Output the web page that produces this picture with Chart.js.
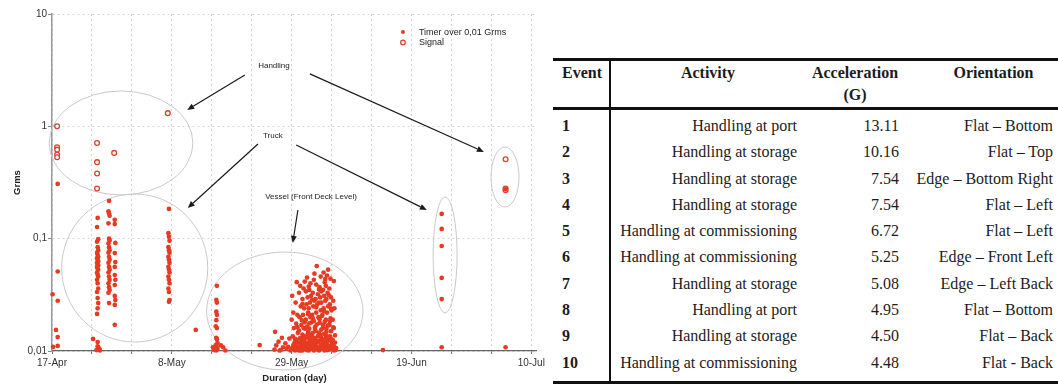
<!DOCTYPE html>
<html>
<head>
<meta charset="utf-8">
<script src="https://cdn.jsdelivr.net/npm/chart.js@4.4.1/dist/chart.umd.min.js"></script>
<style>
  html, body { margin: 0; padding: 0; background: #fff; }
  body { width: 1058px; height: 385px; overflow: hidden; position: relative; }
  #plot { position: absolute; left: 0; top: 0; width: 548px; height: 385px; }
  #tbl { position: absolute; left: 553px; top: 58px; width: 505px; }
  table { border-collapse: collapse; table-layout: fixed; width: 505px;
          font-family: 'Liberation Serif', 'Times New Roman', serif; font-size: 16px; color: #1c1c1c; }
  thead tr { border-top: 3px solid #111; border-bottom: 3px solid #111; }
  th { font-weight: bold; vertical-align: top; height: 45px; padding: 1px 0 0 0; line-height: 22px; text-align: center; }
  td { padding: 0; line-height: 26.3px; white-space: nowrap; }
  tbody tr:first-child td { padding-top: 3px; }
  tbody tr:last-child td { padding-bottom: 5px; }
  tbody tr:last-child { border-bottom: 3px solid #111; }
  .c1 { border-right: 2px solid #111; text-align: left; padding-left: 9px; font-weight: bold; }
  th.c1 { text-align: left; padding-left: 9px; }
  td.c2 { text-align: right; padding-right: 8px; }
  td.c3 { text-align: right; padding-right: 6px; }
  td.c4 { text-align: right; padding-right: 5px; }
  th.c4 { padding-left: 24px; }
</style>
</head>
<body>
<div id="plot"><canvas id="c" width="548" height="385"></canvas></div>
<div id="tbl"></div>
<script>
// ---- axis labels ----
const xTickLabels = ['17-Apr', '8-May', '29-May', '19-Jun', '10-Jul'];
const yTickValues = [0.01, 0.1, 1, 10];
const yTickLabels = ['0,01', '0,1', '1', '10'];
const seriesNames = ['Timer over 0,01 Grms', 'Signal'];

// ---- recorded events: [days since 17 April, Grms] ----
const signalPoints = [
  [0.9, 1.0], [0.9, 0.65], [0.9, 0.62], [0.9, 0.56], [0.9, 0.53],
  [7.9, 0.71], [10.9, 0.58], [7.9, 0.48], [7.9, 0.38], [7.9, 0.28],
  [20.3, 1.31], [79.5, 0.51], [79.5, 0.28], [79.5, 0.27]
];

const earlyPoints = [
  [0.1, 0.032], [1.0, 0.051], [1.0, 0.028], [0.7, 0.0154], [1.0, 0.0133],
  [1.0, 0.0111], [0.2, 0.0109], [1.0, 0.307]
];

const truckPoints = [
  [8.0, 0.153], [7.9, 0.127], [8.1, 0.099], [7.9, 0.094], [8.0, 0.084], [8.1, 0.079], [7.9, 0.075],
  [8.0, 0.072], [8.1, 0.069], [7.9, 0.067], [8.0, 0.065], [8.1, 0.063], [7.9, 0.061], [8.0, 0.059],
  [8.1, 0.058], [7.9, 0.056], [8.0, 0.054], [8.1, 0.053], [7.9, 0.050], [8.0, 0.048], [8.1, 0.046],
  [7.9, 0.043], [8.0, 0.040], [8.1, 0.036], [7.9, 0.0335], [8.0, 0.0296], [8.1, 0.0267], [8.0, 0.024],
  [7.9, 0.0214],
  [10.0, 0.217], [9.9, 0.175], [10.0, 0.168], [10.1, 0.160], [9.9, 0.137], [10.0, 0.100], [10.1, 0.097],
  [9.9, 0.091], [10.0, 0.084], [10.1, 0.079], [9.9, 0.075], [10.0, 0.069], [10.1, 0.065], [9.9, 0.061],
  [10.0, 0.056], [10.1, 0.053], [9.9, 0.050], [10.0, 0.046], [10.1, 0.043], [9.9, 0.040], [10.0, 0.037],
  [10.1, 0.035], [9.9, 0.033], [10.0, 0.0267],
  [11.0, 0.147], [11.0, 0.135], [11.1, 0.0916], [11.0, 0.0745], [11.1, 0.062], [11.0, 0.056],
  [11.0, 0.0475], [11.1, 0.043], [11.0, 0.0387], [11.0, 0.0309], [11.1, 0.0284], [11.0, 0.0257],
  [11.0, 0.0171],
  [20.5, 0.184], [20.4, 0.112], [20.5, 0.104], [20.6, 0.096], [20.4, 0.084], [20.5, 0.079], [20.6, 0.075],
  [20.4, 0.069], [20.5, 0.065], [20.6, 0.061], [20.4, 0.056], [20.5, 0.053], [20.6, 0.050], [20.4, 0.046],
  [20.5, 0.043], [20.6, 0.040], [20.4, 0.036], [20.5, 0.0335], [20.6, 0.0284], [20.5, 0.0274],
  [7.2, 0.0128], [8.0, 0.012], [8.0, 0.011], [8.3, 0.0105], [7.8, 0.0102], [8.4, 0.0101], [8.1, 0.0108]
];

const midMayPoints = [
  [25.2, 0.0154],
  [28.9, 0.038], [28.8, 0.0285], [28.9, 0.027], [28.8, 0.0224], [28.9, 0.021], [28.8, 0.0188],
  [28.7, 0.0166], [28.9, 0.016], [28.8, 0.0131], [28.9, 0.0127], [29.0, 0.0118], [28.7, 0.0113],
  [28.9, 0.0108], [29.0, 0.0104], [28.8, 0.0101], [28.2, 0.0108], [30.0, 0.0108], [30.4, 0.0101],
  [28.4, 0.0102], [29.6, 0.0112],
  [36.4, 0.0113]
];

const vesselPoints = [
  [39.1, 0.0148], [39.3, 0.0112], [39.0, 0.0103], [39.7, 0.0121], [39.9, 0.0101], [40.3, 0.0131],
  [40.5, 0.0108], [40.1, 0.0102], [40.9, 0.0117], [41.1, 0.0105], [41.6, 0.0129], [41.4, 0.0109],
  [41.8, 0.0101],
  [42.1, 0.031], [42.3, 0.022], [42.0, 0.019], [42.4, 0.016], [42.2, 0.0135], [42.5, 0.0118],
  [42.1, 0.0106], [42.6, 0.0101],
  [42.9, 0.041], [42.7, 0.027], [43.0, 0.021], [42.8, 0.0175], [43.1, 0.0145], [42.9, 0.0126],
  [42.7, 0.0112], [43.0, 0.0103],
  [43.5, 0.038], [43.3, 0.033], [43.6, 0.025], [43.4, 0.020], [43.7, 0.017], [43.3, 0.0152],
  [43.5, 0.013], [43.8, 0.0115], [43.4, 0.0107], [43.6, 0.0101],
  [44.1, 0.036], [43.9, 0.029], [44.2, 0.024], [44.0, 0.021], [44.3, 0.018], [44.1, 0.016],
  [43.9, 0.014], [44.2, 0.0125], [44.0, 0.0113], [44.4, 0.0104],
  [44.7, 0.045], [44.5, 0.034], [44.8, 0.030], [44.6, 0.026], [44.9, 0.022], [44.5, 0.019],
  [44.7, 0.0165], [44.9, 0.0148], [44.6, 0.0132], [44.8, 0.0119], [44.5, 0.0108], [44.7, 0.0102],
  [45.3, 0.040], [45.1, 0.035], [45.4, 0.031], [45.2, 0.027], [45.0, 0.024], [45.3, 0.020],
  [45.5, 0.018], [45.1, 0.0158], [45.4, 0.014], [45.2, 0.0127], [45.0, 0.0114], [45.3, 0.0105],
  [45.9, 0.043], [45.7, 0.033], [46.0, 0.028], [45.8, 0.025], [45.6, 0.021], [45.9, 0.0185],
  [46.1, 0.0163], [45.7, 0.0145], [46.0, 0.013], [45.8, 0.0117], [45.6, 0.0107], [45.9, 0.0101],
  [46.4, 0.057], [46.3, 0.039], [46.6, 0.032], [46.2, 0.029], [46.5, 0.026], [46.3, 0.022],
  [46.7, 0.020], [46.4, 0.0172], [46.2, 0.015], [46.6, 0.0136], [46.4, 0.0122], [46.3, 0.011],
  [46.5, 0.0103],
  [47.1, 0.046], [46.9, 0.037], [47.2, 0.034], [47.0, 0.030], [46.8, 0.027], [47.1, 0.023],
  [47.3, 0.0205], [46.9, 0.0178], [47.2, 0.0155], [47.0, 0.0139], [46.8, 0.0124], [47.1, 0.0112],
  [47.3, 0.0104],
  [47.6, 0.050], [47.8, 0.041], [47.5, 0.035], [47.7, 0.031], [47.9, 0.028], [47.6, 0.024],
  [47.4, 0.021], [47.8, 0.0182], [47.5, 0.016], [47.7, 0.0142], [47.9, 0.0128], [47.6, 0.0115],
  [47.4, 0.0106], [47.8, 0.0101],
  [48.2, 0.047], [48.0, 0.038], [48.3, 0.033], [48.1, 0.029], [48.4, 0.025], [48.2, 0.022],
  [48.0, 0.019], [48.3, 0.0168], [48.1, 0.0148], [48.4, 0.0133], [48.2, 0.012], [48.0, 0.0109],
  [48.3, 0.0102],
  [48.8, 0.044], [48.6, 0.036], [48.9, 0.030], [48.7, 0.026], [49.0, 0.023], [48.8, 0.0195],
  [48.6, 0.017], [48.9, 0.015], [48.7, 0.0135], [49.0, 0.0121], [48.8, 0.011], [48.6, 0.0103],
  [49.4, 0.042], [49.3, 0.028], [49.5, 0.024], [49.2, 0.019], [49.4, 0.016], [49.6, 0.0138],
  [49.3, 0.0119], [49.5, 0.0107], [49.4, 0.0101],
  [42.4, 0.0104], [43.2, 0.0109], [43.9, 0.0101], [44.3, 0.0111], [45.0, 0.0101], [45.6, 0.0112],
  [46.1, 0.0106], [46.8, 0.0101], [47.3, 0.0113], [48.0, 0.0103], [48.5, 0.0106], [49.1, 0.0104],
  [49.7, 0.0102], [44.1, 0.0119], [46.0, 0.0121], [47.4, 0.0124], [45.4, 0.0124], [43.7, 0.0122],
  [48.6, 0.0126], [42.8, 0.0121]
];

// the dense floor of the vessel leg and its scattered upper edge
const vesselFloorPoints = [
  [42.3, 0.0113], [42.6, 0.0128], [42.9, 0.0108], [43.1, 0.0119], [43.3, 0.0101], [43.6, 0.0114],
  [43.8, 0.0128], [44.0, 0.0107], [44.2, 0.0135], [44.4, 0.0117], [44.6, 0.0104], [44.8, 0.0141],
  [45.0, 0.0131], [45.2, 0.0109], [45.4, 0.0118], [45.6, 0.0136], [45.8, 0.0103], [46.0, 0.0113],
  [46.2, 0.0127], [46.4, 0.0107], [46.6, 0.0119], [46.8, 0.0146], [47.0, 0.0108], [47.2, 0.0131],
  [47.4, 0.0117], [47.6, 0.0104], [47.8, 0.0121], [48.0, 0.0138], [48.2, 0.0113], [48.4, 0.0125],
  [48.6, 0.0109], [48.8, 0.0131], [49.0, 0.0114], [49.2, 0.0126], [49.4, 0.0111], [49.6, 0.0119],
  [49.8, 0.0106],
  [43.0, 0.0163], [43.8, 0.0187], [44.4, 0.0158], [45.1, 0.0176], [45.7, 0.0196], [46.1, 0.0157],
  [46.9, 0.0192], [47.5, 0.0171], [48.1, 0.0158], [48.7, 0.0183], [49.3, 0.0162], [44.9, 0.0212],
  [46.3, 0.0245], [47.7, 0.0226], [48.9, 0.0238], [43.9, 0.0262], [45.6, 0.0286], [47.2, 0.0269],
  [48.5, 0.0315], [46.8, 0.0352], [45.0, 0.0375], [47.9, 0.0438], [44.3, 0.0415], [46.0, 0.0488],
  [48.4, 0.053]
];

const latePoints = [
  [58.0, 0.0102],
  [68.3, 0.166], [68.3, 0.122], [68.3, 0.086], [68.3, 0.0447], [68.3, 0.029], [68.3, 0.0108],
  [79.5, 0.275], [79.5, 0.0108]
];

// ---- table contents ----
const eventNumbers = ['1', '2', '3', '4', '5', '6', '7', '8', '9', '10'];
const activities = ['Handling at port', 'Handling at storage', 'Handling at storage', 'Handling at storage',
  'Handling at commissioning', 'Handling at commissioning', 'Handling at storage', 'Handling at port',
  'Handling at storage', 'Handling at commissioning'];
const accelerations = ['13.11', '10.16', '7.54', '7.54', '6.72', '5.25', '5.08', '4.95', '4.50', '4.48'];
const orientations = ['Flat – Bottom', 'Flat – Top', 'Edge – Bottom Right', 'Flat – Left', 'Flat – Left',
  'Edge – Front Left', 'Edge – Left Back', 'Flat – Bottom', 'Flat – Back', 'Flat - Back'];

// ---- callouts drawn over the plot (in data units) ----
const groupOutlines = [
  { day: 12.1, grms: 0.711, rDays: 12.6, rDecades: 0.463 },
  { day: 14.5, grms: 0.0548, rDays: 12.8, rDecades: 0.659 },
  { day: 40.8, grms: 0.0227, rDays: 13.7, rDecades: 0.525 },
  { day: 68.9, grms: 0.0716, rDays: 2.1, rDecades: 0.516 },
  { day: 79.4, grms: 0.354, rDays: 2.45, rDecades: 0.267 }
];
const pointers = [
  { from: [33.8, 2.87], to: [23.7, 1.40] },
  { from: [45.2, 2.93], to: [75.7, 0.592] },
  { from: [36.1, 0.697], to: [23.8, 0.1875] },
  { from: [42.8, 0.682], to: [65.7, 0.180] },
  { from: [43.1, 0.180], to: [42.2, 0.0916] }
];
const captions = [
  { text: 'Handling', day: 38.9, grms: 3.45 },
  { text: 'Truck', day: 38.7, grms: 0.823 },
  { text: 'Vessel (Front Deck Level)', day: 45.4, grms: 0.235 }
];

// ---- table ----
(function buildTable() {
  let html = '<table><colgroup><col style="width:57px"><col style="width:195px">' +
    '<col style="width:100px"><col style="width:153px"></colgroup>';
  html += '<thead><tr><th class="c1">Event</th><th class="c2">Activity</th>' +
    '<th class="c3">Acceleration<br>(G)</th><th class="c4">Orientation</th></tr></thead><tbody>';
  eventNumbers.forEach((n, i) => {
    html += '<tr><td class="c1">' + n + '</td><td class="c2">' + activities[i] + '</td><td class="c3">' +
      accelerations[i] + '</td><td class="c4">' + orientations[i] + '</td></tr>';
  });
  html += '</tbody></table>';
  document.getElementById('tbl').innerHTML = html;
})();

// ---- chart ----
const toXY = p => ({ x: p[0], y: p[1] });
const timerData = [].concat(earlyPoints, truckPoints, midMayPoints, vesselPoints, vesselFloorPoints, latePoints).map(toXY);
const signalData = signalPoints.map(toXY);

const DOT = '#e63b22';
const RING = '#d8432d';

const callouts = {
  id: 'callouts',
  beforeDatasetsDraw(chart) {
    const { ctx, scales: { x, y } } = chart;
    const pxDay = x.getPixelForValue(1) - x.getPixelForValue(0);
    const pxDec = y.getPixelForValue(0.1) - y.getPixelForValue(1);
    ctx.save();
    ctx.strokeStyle = '#c9c9c9';
    ctx.lineWidth = 1;
    groupOutlines.forEach(e => {
      ctx.beginPath();
      ctx.ellipse(x.getPixelForValue(e.day), y.getPixelForValue(e.grms),
        e.rDays * pxDay, e.rDecades * pxDec, 0, 0, Math.PI * 2);
      ctx.stroke();
    });
    ctx.restore();
  },
  afterDraw(chart) {
    const { ctx, chartArea, scales: { x, y } } = chart;
    ctx.save();
    // arrows
    ctx.strokeStyle = '#1a1a1a';
    ctx.fillStyle = '#1a1a1a';
    ctx.lineWidth = 1.2;
    pointers.forEach(a => {
      const x0 = x.getPixelForValue(a.from[0]), y0 = y.getPixelForValue(a.from[1]);
      const x1 = x.getPixelForValue(a.to[0]), y1 = y.getPixelForValue(a.to[1]);
      const ang = Math.atan2(y1 - y0, x1 - x0);
      const hl = 7, hw = 3;
      const bx = x1 - hl * Math.cos(ang), by = y1 - hl * Math.sin(ang);
      ctx.beginPath();
      ctx.moveTo(x0, y0);
      ctx.lineTo(bx, by);
      ctx.stroke();
      ctx.beginPath();
      ctx.moveTo(x1, y1);
      ctx.lineTo(bx + hw * Math.sin(ang), by - hw * Math.cos(ang));
      ctx.lineTo(bx - hw * Math.sin(ang), by + hw * Math.cos(ang));
      ctx.closePath();
      ctx.fill();
    });
    // captions
    ctx.font = '8px "Liberation Sans", Arial, sans-serif';
    ctx.fillStyle = '#222';
    ctx.textAlign = 'center';
    ctx.textBaseline = 'middle';
    captions.forEach(c => ctx.fillText(c.text, x.getPixelForValue(c.day), y.getPixelForValue(c.grms)));

    // legend
    const mx = chartArea.right - 134, my = chartArea.top + 18;
    ctx.fillStyle = DOT;
    ctx.beginPath(); ctx.arc(mx, my, 2, 0, Math.PI * 2); ctx.fill();
    ctx.strokeStyle = RING; ctx.lineWidth = 1.3; ctx.fillStyle = '#fff';
    ctx.beginPath(); ctx.arc(mx, my + 10.5, 2.3, 0, Math.PI * 2); ctx.fill(); ctx.stroke();
    ctx.fillStyle = '#222';
    ctx.textAlign = 'left';
    ctx.font = '9px "Liberation Sans", Arial, sans-serif';
    ctx.fillText(seriesNames[0], mx + 16, my + 0.5);
    ctx.fillText(seriesNames[1], mx + 16, my + 11);
    ctx.restore();
  }
};

const tickFont = { family: '"Liberation Sans", Arial, sans-serif', size: 10 };
const titleFont = { family: '"Liberation Sans", Arial, sans-serif', size: 9.5, weight: 'bold' };

new Chart(document.getElementById('c'), {
  type: 'scatter',
  data: {
    datasets: [
      { label: seriesNames[0], data: timerData, pointRadius: 2.35, pointBackgroundColor: DOT,
        pointBorderColor: DOT, pointBorderWidth: 0, clip: 6 },
      { label: seriesNames[1], data: signalData, pointRadius: 2.4, pointBackgroundColor: '#fff',
        pointBorderColor: RING, pointBorderWidth: 1.3, clip: 6 }
    ]
  },
  options: {
    responsive: false,
    animation: false,
    devicePixelRatio: 1,
    layout: { padding: { top: 14, right: 11, left: 0, bottom: 0 } },
    plugins: { legend: { display: false }, tooltip: { enabled: false } },
    scales: {
      x: {
        type: 'linear', min: 0, max: 85,
        afterBuildTicks: s => { const t = []; for (let d = 0; d <= 84; d += 7) t.push({ value: d }); s.ticks = t; },
        afterFit: s => { s.height = 34; },
        ticks: {
          autoSkip: false, maxRotation: 0, padding: 3, color: '#333', font: tickFont,
          callback: v => (v % 21 === 0 ? xTickLabels[v / 21] : '')
        },
        grid: { color: '#d4d4d4', lineWidth: 1, tickLength: 3, tickColor: '#777', tickBorderDash: [] },
        border: { color: '#666', width: 1.3, dash: [2, 3] },
        title: { display: true, text: 'Duration (day)', color: '#222', font: titleFont, padding: { top: 0, bottom: 1 } }
      },
      y: {
        type: 'logarithmic', min: 0.01, max: 10,
        afterBuildTicks: s => { s.ticks = yTickValues.map(v => ({ value: v })); },
        afterFit: s => { s.width = 52; },
        ticks: {
          autoSkip: false, padding: 1, color: '#333', font: tickFont,
          callback: v => { const i = yTickValues.indexOf(v); return i >= 0 ? yTickLabels[i] : ''; }
        },
        grid: { color: '#d4d4d4', lineWidth: 1, tickLength: 4, tickColor: '#888', tickBorderDash: [] },
        border: { color: '#999', width: 1.5, dash: [2, 3] },
        title: { display: true, text: 'Grms', color: '#222', font: titleFont, padding: { top: 12, bottom: 0 } }
      }
    }
  },
  plugins: [callouts]
});
</script>
</body>
</html>
